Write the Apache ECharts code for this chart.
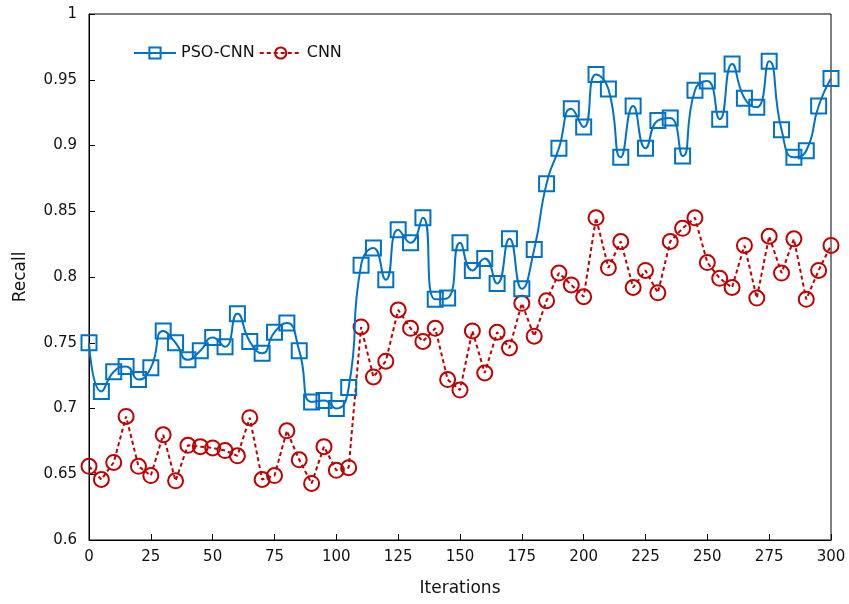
<!DOCTYPE html>
<html>
<head>
<meta charset="utf-8">
<script src="https://cdn.jsdelivr.net/npm/echarts@6/dist/echarts.min.js"></script>
<style>
  html, body { margin: 0; padding: 0; background: #fff; }
  #chart { width: 849px; height: 604px; }
</style>
</head>
<body>
<div id="chart"></div>
<script>
const iterations = []
for (let i = 0; i <= 300; i += 5) iterations.push(i)

const psoCnn = [
  0.750, 0.713, 0.728, 0.732, 0.722, 0.731, 0.759, 0.750, 0.737, 0.744,
  0.754, 0.747, 0.772, 0.751, 0.742, 0.758, 0.765, 0.744, 0.705, 0.706,
  0.700, 0.716, 0.809, 0.822, 0.798, 0.836, 0.826, 0.845, 0.783, 0.784,
  0.826, 0.805, 0.814, 0.795, 0.829, 0.791, 0.821, 0.871, 0.898, 0.928,
  0.914, 0.954, 0.943, 0.891, 0.930, 0.898, 0.919, 0.921, 0.892, 0.942,
  0.949, 0.920, 0.962, 0.936, 0.929, 0.964, 0.912, 0.891, 0.896, 0.930,
  0.951
]

const cnn = [
  0.656, 0.646, 0.659, 0.694, 0.656, 0.649, 0.680, 0.645, 0.672, 0.671,
  0.670, 0.668, 0.664, 0.693, 0.646, 0.649, 0.683, 0.661, 0.643, 0.671,
  0.653, 0.655, 0.762, 0.724, 0.736, 0.775, 0.761, 0.751, 0.761, 0.722,
  0.714, 0.759, 0.727, 0.758, 0.746, 0.780, 0.755, 0.782, 0.803, 0.794,
  0.785, 0.845, 0.807, 0.827, 0.792, 0.805, 0.788, 0.827, 0.837, 0.845,
  0.811, 0.799, 0.792, 0.824, 0.784, 0.831, 0.803, 0.829, 0.783, 0.805,
  0.824
]

const font = 'DejaVu Sans'
const blue = '#0072c6'
const red = '#c00000'

const chart = echarts.init(document.getElementById('chart'))

const pair = (xs, ys) => xs.map((x, i) => [x, ys[i]])

chart.setOption({
  animation: false,
  textStyle: { fontFamily: font },
  grid: {
    left: 89,
    right: 18,
    top: 14,
    bottom: 64,
    show: true,
    borderColor: '#000',
    borderWidth: 1,
    backgroundColor: 'transparent',
  },
  legend: {
    left: 128,
    top: 40,
    itemWidth: 42,
    itemHeight: 14,
    itemGap: 4,
    textStyle: { fontFamily: font, fontSize: 16, color: '#111' },
    data: ['PSO-CNN', 'CNN'],
  },
  xAxis: {
    type: 'value',
    min: 0,
    max: 300,
    interval: 25,
    name: 'Iterations',
    nameLocation: 'middle',
    nameGap: 40,
    nameTextStyle: { fontFamily: font, fontSize: 17, color: '#111' },
    axisLine: { lineStyle: { color: '#000', width: 1 } },
    axisTick: { inside: true, length: 6, lineStyle: { color: '#000' } },
    axisLabel: { fontFamily: font, fontSize: 15, color: '#111', margin: 10 },
    splitLine: { show: false },
  },
  yAxis: {
    type: 'value',
    min: 0.6,
    max: 1,
    interval: 0.05,
    name: 'Recall',
    nameLocation: 'middle',
    nameGap: 60,
    nameTextStyle: { fontFamily: font, fontSize: 17, color: '#111' },
    axisLine: { show: true, lineStyle: { color: '#000', width: 1 } },
    axisTick: { show: true, inside: true, length: 6, lineStyle: { color: '#000' } },
    axisLabel: {
      fontFamily: font,
      fontSize: 15,
      color: '#111',
      margin: 12,
      formatter: (v) => String(+v.toFixed(2)),
    },
    splitLine: { show: false },
  },
  series: [
    {
      name: 'PSO-CNN',
      type: 'line',
      data: pair(iterations, psoCnn),
      smooth: 0.55,
      symbol: 'rect',
      symbolSize: 15,
      lineStyle: { color: blue, width: 2 },
      itemStyle: { color: 'rgba(255,255,255,0)', borderColor: blue, borderWidth: 2 },
      z: 3,
    },
    {
      name: 'CNN',
      type: 'line',
      data: pair(iterations, cnn),
      symbol: 'circle',
      symbolSize: 15,
      lineStyle: { color: red, width: 2, type: [4, 3] },
      itemStyle: { color: 'rgba(255,255,255,0)', borderColor: red, borderWidth: 2 },
      z: 2,
    },
  ],
})
</script>
</body>
</html>
